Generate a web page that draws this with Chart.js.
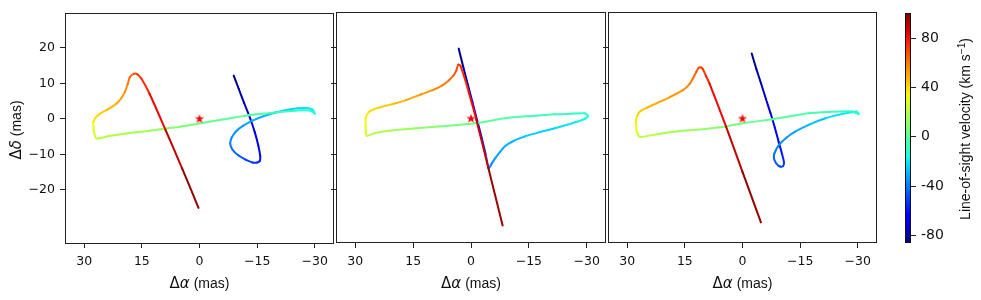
<!DOCTYPE html>
<html>
<head>
<meta charset="utf-8">
<script src="https://cdn.jsdelivr.net/npm/chart.js@4.4.1/dist/chart.umd.min.js"></script>
<style>
  html, body { margin: 0; padding: 0; background: #fff; }
  #wrap { position: relative; width: 981px; height: 300px; overflow: hidden; }
  canvas { position: absolute; top: 0; }
</style>
</head>
<body>
<div id="wrap">
  <canvas id="panelA" style="left:0px" width="340" height="300"></canvas>
  <canvas id="panelB" style="left:300px" width="312" height="300"></canvas>
  <canvas id="panelC" style="left:572px" width="311" height="300"></canvas>
  <canvas id="cbar" style="left:880px" width="101" height="300"></canvas>
</div>
<script>
// axis ticks and colour range
const xTicks = [30, 15, 0, -15, -30];
const yTicks = [-20, -10, 0, 10, 20];
const cbarTicks = [-80, -40, 0, 40, 80];
const velMin = -86, velMax = 100;

// star position
const starX = [0];
const starY = [0];

// panel 1 track (RA offset, Dec offset, line-of-sight velocity)
const trackAX = [-8.9, -10.2, -11.6, -13.2, -14.4, -15.3, -15.8, -15.7, -15.0, -13.8, -12.0, -10.0, -8.6, -8.0,
  -8.4, -9.6, -11.4, -13.8, -16.8, -19.8, -23.0, -26.0, -28.2, -29.4, -30.0, -29.0, -26.5, -23.9, -18.0, -12.8,
  -6.0, 0.1, 5.0, 8.7, 13.5, 19.1, 23.5, 26.8, 27.4, 27.6, 27.6, 27.0, 25.9, 24.0, 21.6, 20.4, 19.4, 18.7, 18.1,
  17.1, 16.2, 15.1, 13.0, 8.8, 4.5, 0.26];
const trackAY = [12.2, 8.5, 4.5, 0.1, -3.8, -7.5, -10.5, -11.8, -12.3, -12.3, -11.5, -10.2, -8.7, -7.0,
  -5.2, -3.4, -1.9, -0.5, 0.8, 1.8, 2.6, 3.0, 3.0, 2.6, 1.5, 2.3, 2.4, 2.2, 1.6, 1.0,
  -0.2, -1.3, -2.2, -2.7, -3.4, -4.1, -4.8, -5.5, -4.0, -2.2, -0.8, 0.4, 1.5, 2.6, 4.3, 5.8, 7.6, 9.8, 11.8,
  12.7, 12.6, 11.3, 7.1, -3.2, -14.0, -25.1];
const trackAV = [-86, -82, -78, -74, -70, -66, -62, -59, -56, -53, -50, -46, -43, -40,
  -38, -36, -34, -32, -30, -28, -26, -23, -21, -19, -17, -14, -11, -9, -5, -2,
  1, 4, 8, 11, 15, 18, 20, 22, 27, 32, 36, 39, 42, 45, 48, 51, 54, 58, 62,
  66, 70, 73, 78, 86, 93, 100];

// panel 2 track
const trackBX = [3.2, 2.0, 0.8, -0.4, -1.6, -2.8, -3.8, -4.6, -5.4, -6.3, -7.5, -8.8, -11.0, -14.0, -17.8,
  -21.7, -25.0, -27.7, -29.6, -30.3, -29.4, -26.0, -21.7, -15.0, -8.8, -1.1, 8.3, 15.0, 21.2, 25.0, 27.0,
  27.3, 27.3, 27.3, 26.3, 23.8, 20.0, 16.9, 13.0, 10.0, 7.5, 5.7, 4.5, 3.8, 3.3, 2.7, 0.6, -1.4, -4.5, -8.2];
const trackBY = [19.7, 14.5, 9.5, 4.5, -0.5, -5.5, -10.0, -13.9, -12.6, -11.1, -9.4, -7.8, -6.3, -5.0, -3.8,
  -2.7, -1.7, -0.8, 0.0, 0.8, 1.5, 1.4, 1.2, 0.7, 0.1, -1.3, -2.2, -2.8, -3.4, -4.1, -4.8,
  -3.5, -2.2, 0.1, 2.0, 3.1, 4.2, 5.2, 6.8, 8.0, 9.3, 10.8, 12.2, 13.6, 15.2, 14.8, 7.5, -0.4, -13.9, -30.1];
const trackBV = [-86, -81, -76, -71, -66, -61, -52, -40, -37, -35, -33, -31, -29, -27, -25,
  -23, -21, -19, -17, -15, -12, -10, -8, -5, -2, 2, 8, 13, 17, 20, 22,
  27, 31, 35, 39, 43, 46, 49, 52, 55, 58, 61, 64, 67, 70, 73, 78, 84, 91, 100];

// panel 3 track
const trackCX = [-2.4, -3.6, -4.8, -6.1, -7.3, -8.4, -9.4, -10.3, -10.8, -10.5, -9.6, -8.7, -8.2, -8.3, -9.5,
  -11.5, -13.8, -17.5, -21.6, -25.5, -28.5, -29.7, -30.2, -28.5, -25.9, -21.0, -17.2, -12.0, -7.8, 0.0, 4.3,
  10.0, 17.2, 22.0, 26.7, 27.3, 27.6, 27.7, 27.7, 27.3, 26.7, 24.8, 22.4, 19.0, 15.5, 13.8, 12.9, 12.0, 11.4,
  10.8, 10.3, 9.5, 8.6, 4.3, 0.0, -4.8];
const trackCY = [18.3, 14.0, 10.0, 5.5, 1.5, -2.5, -6.5, -10.0, -12.4, -13.4, -13.4, -12.5, -11.2, -9.8, -7.4,
  -5.3, -3.6, -1.6, 0.1, 1.2, 1.8, 2.0, 1.3, 2.0, 2.0, 1.8, 1.5, 0.6, -0.2, -1.3, -2.2,
  -2.9, -3.6, -4.3, -5.2, -4.2, -3.2, -1.5, -0.4, 1.0, 2.0, 3.1, 4.3, 6.0, 8.0, 9.7, 11.3, 13.2, 14.3,
  14.4, 13.9, 12.0, 9.9, -2.2, -15.0, -29.2];
const trackCV = [-86, -82, -78, -74, -70, -66, -62, -58, -55, -52, -49, -46, -44, -42, -39,
  -36, -33, -29, -25, -21, -18, -16, -14, -12, -10, -7, -5, -2, 0, 4, 8,
  12, 16, 19, 22, 26, 30, 34, 37, 40, 43, 46, 49, 52, 55, 58, 61, 64, 67,
  70, 72, 75, 78, 86, 93, 100];

// matplotlib jet colormap
const jetR = [[0, 0], [0.35, 0], [0.66, 1], [0.89, 1], [1, 0.5]];
const jetG = [[0, 0], [0.125, 0], [0.375, 1], [0.64, 1], [0.91, 0], [1, 0]];
const jetB = [[0, 0.5], [0.11, 1], [0.34, 1], [0.65, 0], [1, 0]];

function interp(stops, t) {
  for (let i = 1; i < stops.length; i++) {
    if (t <= stops[i][0]) {
      const [t0, v0] = stops[i - 1], [t1, v1] = stops[i];
      return v0 + (v1 - v0) * (t - t0) / (t1 - t0);
    }
  }
  return stops[stops.length - 1][1];
}

function jet(v) {
  const t = Math.min(1, Math.max(0, (v - velMin) / (velMax - velMin)));
  const c = s => Math.round(255 * interp(s, t));
  return `rgb(${c(jetR)},${c(jetG)},${c(jetB)})`;
}

function makeStar(r, color) {
  const c = document.createElement('canvas');
  const s = Math.ceil(r * 2 + 2);
  c.width = c.height = s;
  const g = c.getContext('2d');
  g.fillStyle = color;
  g.beginPath();
  for (let i = 0; i < 10; i++) {
    const a = -Math.PI / 2 + i * Math.PI / 5;
    const rr = i % 2 === 0 ? r : r * 0.4;
    g.lineTo(s / 2 + rr * Math.cos(a), s / 2 + rr * Math.sin(a));
  }
  g.closePath();
  g.fill();
  return c;
}
const starImg = makeStar(4.8, '#ff0000');

// text with mixed fonts (greek mathtext + plain)
function drawRich(ctx, parts, x, y, angle) {
  ctx.save();
  ctx.translate(x, y);
  ctx.rotate(angle);
  ctx.fillStyle = '#111';
  ctx.textBaseline = 'alphabetic';
  let total = 0;
  parts.forEach(p => { ctx.font = p.font; p.w = ctx.measureText(p.text).width; total += p.w; });
  let cx = -total / 2;
  parts.forEach(p => {
    ctx.font = p.font;
    ctx.fillText(p.text, cx, p.dy || 0);
    cx += p.w;
  });
  ctx.restore();
}

Chart.defaults.font.family = "'DejaVu Sans', sans-serif";
Chart.defaults.color = '#111';

const framePlugin = {
  id: 'frame',
  afterDatasetsDraw(chart) {
    const { ctx, chartArea: a } = chart;
    ctx.save();
    ctx.strokeStyle = '#222';
    ctx.lineWidth = 1;
    ctx.strokeRect(Math.round(a.left) + 0.5, Math.round(a.top) + 0.5,
      Math.round(a.right - a.left) - 1, Math.round(a.bottom - a.top) - 1);
    ctx.restore();
  }
};

function axisLabels(showY) {
  return {
    id: 'axisLabels',
    afterDraw(chart) {
      const { ctx, chartArea: a } = chart;
      drawRich(ctx, [
        { text: '\u0394', font: "15px 'DejaVu Sans'" },
        { text: '\u03b1', font: "italic 15px 'DejaVu Sans'" },
        { text: ' (mas)', font: "14px 'Liberation Sans'" }
      ], (a.left + a.right) / 2, 288, 0);
      if (showY) {
        drawRich(ctx, [
          { text: '\u0394', font: "15px 'DejaVu Sans'" },
          { text: '\u03b4', font: "italic 15px 'DejaVu Sans'" },
          { text: ' (mas)', font: "14px 'Liberation Sans'" }
        ], 20.5, 130, -Math.PI / 2);
      }
    }
  };
}

function makePanel(id, xs, ys, vs, showY, yWidth) {
  const pts = xs.map((x, i) => ({ x: x, y: ys[i] }));
  return new Chart(document.getElementById(id), {
    type: 'scatter',
    data: {
      datasets: [
        {
          data: starX.map((x, i) => ({ x: x, y: starY[i] })),
          pointStyle: starImg,
          pointRadius: 5
        },
        {
          data: pts,
          showLine: true,
          pointRadius: 0,
          borderWidth: 2,
          tension: 0.25,
          borderCapStyle: 'round',
          borderJoinStyle: 'round',
          segment: {
            borderColor: c => jet((vs[c.p0DataIndex] + vs[c.p1DataIndex]) / 2)
          }
        }
      ]
    },
    options: {
      responsive: false,
      animation: false,
      layout: { padding: { top: 12, right: 4, left: 0, bottom: 0 } },
      plugins: { legend: { display: false }, tooltip: { enabled: false } },
      scales: {
        x: {
          type: 'linear',
          min: -35,
          max: 35,
          reverse: true,
          afterBuildTicks: s => { s.ticks = xTicks.map(v => ({ value: v })); },
          afterFit: s => { s.height = 57; },
          grid: { drawOnChartArea: false, tickLength: 5, color: '#222' },
          border: { display: false },
          ticks: {
            font: { size: 12.5 },
            padding: 6,
            maxRotation: 0,
            callback: v => (v < 0 ? '\u2212' + Math.abs(v) : String(v))
          }
        },
        y: {
          type: 'linear',
          min: -35,
          max: 30,
          afterBuildTicks: s => { s.ticks = yTicks.map(v => ({ value: v })); },
          afterFit: s => { s.width = yWidth; },
          grid: { drawOnChartArea: false, tickLength: 5, color: '#222' },
          border: { display: false },
          ticks: {
            display: showY,
            font: { size: 12.5 },
            padding: 5,
            callback: v => (v < 0 ? '\u2212' + Math.abs(v) : String(v))
          }
        }
      }
    },
    plugins: [framePlugin, axisLabels(showY)]
  });
}

makePanel('panelA', trackAX, trackAY, trackAV, true, 65);
makePanel('panelB', trackBX, trackBY, trackBV, false, 36);
makePanel('panelC', trackCX, trackCY, trackCV, false, 36);

// colour bar
const cbarTitle = {
  id: 'cbarTitle',
  afterDraw(chart) {
    const { ctx, chartArea: a } = chart;
    ctx.save();
    ctx.strokeStyle = '#111';
    ctx.lineWidth = 1;
    ctx.strokeRect(Math.round(a.left) + 0.5, Math.round(a.top) + 0.5,
      Math.round(a.right - a.left) - 1, Math.round(a.bottom - a.top) - 1);
    ctx.restore();
    drawRich(ctx, [
      { text: 'Line-of-sight velocity (km s', font: "14px 'Liberation Sans'" },
      { text: '\u22121', font: "10px 'Liberation Sans'", dy: -5 },
      { text: ')', font: "14px 'Liberation Sans'" }
    ], 90, 129, -Math.PI / 2);
  }
};

new Chart(document.getElementById('cbar'), {
  type: 'bar',
  data: {
    labels: [''],
    datasets: [{
      data: [[velMin, velMax]],
      borderWidth: 0,
      barPercentage: 1,
      categoryPercentage: 1,
      backgroundColor: c => {
        const area = c.chart.chartArea;
        if (!area) return '#888';
        const g = c.chart.ctx.createLinearGradient(0, area.bottom, 0, area.top);
        for (let i = 0; i <= 40; i++) {
          g.addColorStop(i / 40, jet(velMin + (velMax - velMin) * i / 40));
        }
        return g;
      }
    }]
  },
  options: {
    responsive: false,
    animation: false,
    layout: { padding: { left: 25, top: 11, bottom: 57, right: 0 } },
    plugins: { legend: { display: false }, tooltip: { enabled: false } },
    scales: {
      x: { display: false },
      y: {
        position: 'right',
        min: velMin,
        max: velMax,
        afterBuildTicks: s => { s.ticks = cbarTicks.map(v => ({ value: v })); },
        afterFit: s => { s.width = 70; },
        grid: { drawOnChartArea: false, tickLength: 5, color: '#222' },
        border: { display: false },
        ticks: { font: { size: 14 }, padding: 5, callback: v => String(v) }
      }
    }
  },
  plugins: [cbarTitle]
});
</script>
</body>
</html>
